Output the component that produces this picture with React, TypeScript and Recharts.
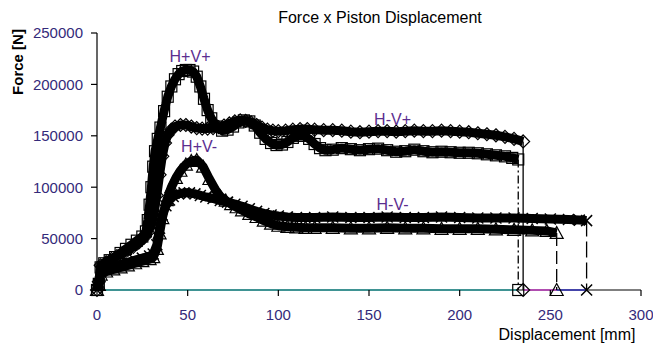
import React from 'react';
import { ComposedChart, Line, XAxis, YAxis, ReferenceDot } from 'recharts';

type Pt = [number, number];

const xTicks = [0, 50, 100, 150, 200, 250, 300];
const yTicks = [0, 50000, 100000, 150000, 200000, 250000];

const seriesNames = ['H+V+', 'H-V+', 'H+V-', 'H-V-'];

// H+V+ (squares)
const hpvp: Pt[] = [
  [0, 0], [1, 6000], [2, 22000], [4, 26000], [7, 29000], [10, 32000], [13, 36000], [16, 40000],
  [19, 44000], [22, 48000], [25, 52000], [27, 57000], [28, 68000], [29, 83000], [30, 100000],
  [31, 120000], [32, 135000], [33.5, 147000], [35, 158000], [37, 174000], [39, 188000], [41, 198000],
  [43, 205000], [45, 210000], [47, 213000], [49, 214000], [51, 214000], [53, 212500], [55, 207500],
  [57, 198000], [59, 186000], [61, 175000], [63, 167000], [66, 159000], [69, 155000], [72, 156000],
  [75, 159000], [78, 163000], [81, 165000], [84, 164000], [87, 160000], [90, 153000], [93, 147000],
  [96, 143000], [99, 141000], [102, 141500], [105, 144000], [108, 148000], [111, 150000], [114, 150000],
  [117, 147000], [120, 142000], [123, 138000], [126, 136000], [130, 136500], [135, 138000], [140, 137000],
  [145, 136000], [150, 137000], [155, 137500], [160, 136000], [165, 134500], [170, 135000], [175, 136500],
  [180, 135000], [185, 134000], [190, 134500], [195, 134000], [200, 133500], [205, 133500], [210, 133000],
  [215, 132000], [220, 131000], [225, 130000], [229, 128500], [232.3, 127000],
];

// H-V+ (diamonds)
const hmvp: Pt[] = [
  [0, 0], [1, 8000], [2, 24000], [5, 27000], [8, 30000], [11, 33000], [14, 36000], [17, 39000],
  [20, 42000], [23, 46000], [26, 51000], [28, 56000], [30, 63000], [31.5, 75000], [33, 92000],
  [34.5, 112000], [36, 130000], [37.5, 143000], [39, 151000], [41, 156000], [43, 159000], [46, 160500],
  [49, 160500], [52, 159000], [55, 157500], [58, 157000], [61, 157000], [64, 157500], [67, 158500],
  [70, 160000], [73, 162000], [76, 164000], [79, 165000], [82, 164500], [85, 163000], [88, 160500],
  [91, 158000], [94, 156000], [97, 155000], [100, 154500], [104, 155000], [108, 156000], [112, 156500],
  [116, 156500], [120, 156000], [125, 155500], [130, 155500], [135, 155000], [140, 154000], [145, 153500],
  [150, 154000], [155, 154500], [160, 154500], [165, 154000], [170, 154500], [175, 155000], [180, 154500],
  [185, 154500], [190, 155000], [195, 154500], [200, 154000], [205, 153500], [210, 152500], [215, 151500],
  [220, 150500], [225, 149000], [230, 147000], [235, 144500],
];

// H+V- (triangles)
const hpvm: Pt[] = [
  [0, 0], [1, 5000], [2, 15000], [5, 18000], [9, 20000], [13, 22000], [17, 24000], [21, 26000],
  [25, 28000], [29, 30000], [31, 32000], [33, 40000], [34.5, 55000], [36, 70000], [38.5, 87500],
  [41, 100000], [43.5, 109000], [46, 116000], [49, 122000], [52, 125500], [55, 126500], [58.5, 120000],
  [62, 108000], [65.5, 97000], [68, 91000], [71, 87000], [74, 83500], [77, 80500], [80, 77500],
  [84, 74000], [88, 71000], [92, 67500], [96, 64500], [100, 62500], [105, 61500], [110, 61000],
  [115, 60500], [120, 60500], [130, 60500], [140, 60000], [150, 60000], [160, 60500], [170, 60000],
  [180, 60000], [190, 59500], [200, 59500], [210, 59500], [220, 59000], [230, 58500], [240, 58000],
  [248, 57500], [253.5, 55500],
];

// H-V- (crosses)
const hmvm: Pt[] = [
  [0, 0], [1, 5000], [2, 18000], [5, 21000], [9, 23000], [13, 25000], [17, 27000], [21, 29000],
  [25, 31000], [29, 33000], [31, 35000], [33, 44000], [34.5, 60000], [36, 73000], [38, 82000],
  [40, 87500], [42, 91000], [45, 93500], [48, 94500], [51, 94500], [54, 93500], [57, 92000],
  [60, 90500], [64, 89000], [68, 87000], [72, 85500], [76, 83500], [80, 81500], [84, 79000],
  [88, 76500], [92, 74500], [96, 73000], [100, 72000], [105, 71000], [110, 70500], [120, 70500],
  [130, 71000], [140, 70500], [150, 70500], [160, 71000], [170, 70500], [180, 70500], [190, 71000],
  [200, 70500], [210, 70000], [220, 70000], [230, 70000], [240, 69500], [250, 69000], [260, 68500],
  [266, 68000], [270, 67500],
];

// annotation anchors (data coordinates)
const labelX = [51.3, 163, 56.3, 163];
const labelY = [227500, 166000, 139500, 83500];

const allSeries = [hpvp, hmvp, hpvm, hmvm];
const markerKinds = ['square', 'diamond', 'triangle', 'cross'];
const dropDash = ['8 3 2 3', '', '13 5', '16 5'];
const baseColors = ['#2a9a9a', '#c03cc0', '#3535b5'];

const toObj = (a: Pt[]) => a.map(([x, y]) => ({ x, y }));

function Marker({ kind, cx, cy }: { kind: string; cx: number; cy: number }) {
  if (cx == null || cy == null || isNaN(cx) || isNaN(cy)) return null;
  const s = 5.5;
  const common = { fill: 'none', stroke: '#000', strokeWidth: 1.2 };
  switch (kind) {
    case 'square':
      return <rect x={cx - s} y={cy - s} width={2 * s} height={2 * s} {...common} />;
    case 'diamond':
      return <path d={`M${cx},${cy - s - 1}L${cx + s + 1},${cy}L${cx},${cy + s + 1}L${cx - s - 1},${cy}Z`} {...common} />;
    case 'triangle':
      return <path d={`M${cx},${cy - s - 1}L${cx + s + 1},${cy + s}L${cx - s - 1},${cy + s}Z`} {...common} />;
    default:
      return (
        <path
          d={`M${cx - s},${cy - s}L${cx + s},${cy + s}M${cx + s},${cy - s}L${cx - s},${cy + s}`}
          stroke="#000"
          strokeWidth={1.5}
          fill="none"
        />
      );
  }
}

const font = '"Liberation Sans", Arial, sans-serif';
const tickColor = '#342a7a';
const labelColor = '#5b2e90';

export default function App() {
  const ends = allSeries.map((s) => s[s.length - 1]);
  const axisSeg: Pt[] = [[xTicks[0], 0], [xTicks[xTicks.length - 1], 0]];
  const baseSegs = [
    [[0, 0], [ends[0][0], 0]],
    [[ends[1][0], 0], [ends[2][0], 0]],
    [[ends[2][0], 0], [ends[3][0], 0]],
  ] as Pt[][];

  return (
    <div style={{ position: 'relative', width: 653, height: 344, fontFamily: font }}>
      <style>{'body{margin:0}'}</style>
      <ComposedChart width={653} height={344} margin={{ top: 33, right: 12, bottom: 0, left: 0 }}>
        <XAxis
          type="number"
          dataKey="x"
          domain={[0, 300]}
          ticks={xTicks}
          height={54}
          tickSize={6}
          tickMargin={13}
          axisLine={false}
          tickLine={{ stroke: '#000', strokeWidth: 1.2 }}
          tick={{ fill: tickColor, fontSize: 15, fontFamily: font }}
        />
        <YAxis
          type="number"
          dataKey="y"
          domain={[0, 250000]}
          ticks={yTicks}
          width={97}
          tickSize={6}
          tickMargin={8}
          axisLine={{ stroke: '#000', strokeWidth: 1.2 }}
          tickLine={{ stroke: '#000', strokeWidth: 1.2 }}
          tick={{ fill: tickColor, fontSize: 15, fontFamily: font }}
        />
        <Line
          data={toObj(axisSeg)}
          dataKey="y"
          type="linear"
          stroke="#000"
          strokeWidth={1.2}
          dot={false}
          isAnimationActive={false}
        />
        {baseSegs.map((seg, i) => (
          <Line
            key={`base-${i}`}
            data={toObj(seg)}
            dataKey="y"
            type="linear"
            stroke={baseColors[i]}
            strokeWidth={1.6}
            dot={false}
            isAnimationActive={false}
          />
        ))}
        {allSeries.map((s, i) => {
          const e = ends[i];
          return (
            <Line
              key={`drop-${i}`}
              data={toObj([e, [e[0], 0]])}
              dataKey="y"
              type="linear"
              stroke="#000"
              strokeWidth={1.3}
              strokeDasharray={dropDash[i] || undefined}
              dot={(p: any) =>
                p.index === 1 ? (
                  <g key={`dd-${i}-${p.index}`}>
                    <Marker kind={markerKinds[i]} cx={p.cx} cy={p.cy} />
                  </g>
                ) : (
                  <g key={`dd-${i}-${p.index}`} />
                )
              }
              isAnimationActive={false}
            />
          );
        })}
        {allSeries.map((s, i) => (
          <Line
            key={`ser-${i}`}
            name={seriesNames[i]}
            data={toObj(s)}
            dataKey="y"
            type="linear"
            stroke="#000"
            strokeWidth={9}
            strokeLinejoin="round"
            dot={(p: any) => (
              <g key={`d-${i}-${p.index}`}>
                <Marker kind={markerKinds[i]} cx={p.cx} cy={p.cy} />
              </g>
            )}
            isAnimationActive={false}
          />
        ))}
        {seriesNames.map((n, i) => (
          <ReferenceDot
            key={`lab-${i}`}
            x={labelX[i]}
            y={labelY[i]}
            r={0}
            ifOverflow="visible"
            shape={(p: any) => (
              <text
                x={p.cx}
                y={p.cy}
                dy="0.36em"
                textAnchor="middle"
                fill={labelColor}
                fontSize={16}
                fontFamily={font}
              >
                {n}
              </text>
            )}
          />
        ))}
      </ComposedChart>
      <svg
        width={653}
        height={344}
        style={{ position: 'absolute', left: 0, top: 0, pointerEvents: 'none' }}
      >
        <text x={380} y={23} textAnchor="middle" fontSize={16} fontFamily={font} fill="#000">
          Force x Piston Displacement
        </text>
        <text
          transform="translate(23,62) rotate(-90)"
          textAnchor="middle"
          fontSize={15}
          fontWeight="bold"
          fontFamily={font}
          fill="#000"
        >
          Force [N]
        </text>
        <text x={567} y={340} textAnchor="middle" fontSize={16} fontFamily={font} fill="#000">
          Displacement [mm]
        </text>
      </svg>
    </div>
  );
}
